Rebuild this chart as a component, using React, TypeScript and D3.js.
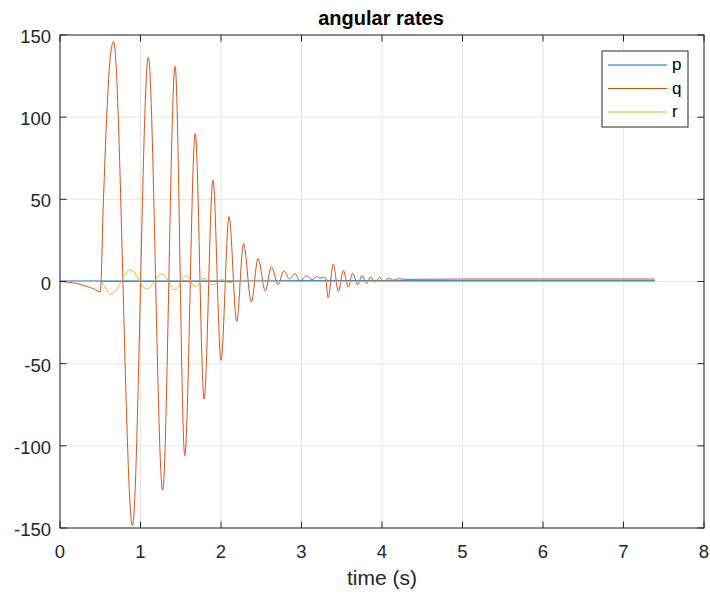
import React from "react";
import * as d3 from "d3";

const qTime = [0, 0.15, 0.3, 0.42, 0.5, 0.54, 0.58, 0.62, 0.665, 0.9, 1.097, 1.275, 1.43, 1.55, 1.68, 1.79, 1.9, 2.0, 2.1, 2.195, 2.28, 2.377, 2.46, 2.55, 2.625, 2.71, 2.78, 2.85, 2.92, 2.98, 3.06, 3.13, 3.19, 3.23, 3.27, 3.3, 3.33, 3.395, 3.457, 3.52, 3.58, 3.636, 3.7, 3.75, 3.81, 3.86, 3.91, 3.97, 4.02, 4.09, 4.14, 4.2, 4.3, 5.0, 7.39];
const qValue = [0, -0.7, -2.5, -4.5, -6.3, 50, 100, 134, 146, -148.6, 136.5, -127, 131, -106, 90, -71.5, 61.7, -48, 39.5, -24.3, 23, -12.5, 14, -5.7, 8.9, -2, 6.5, 1.6, 4.7, 0.3, 3.5, 1.2, 3, 2, 2.6, 2.2, -10, 10.6, -6, 6.7, -3.4, 5, -2, 3.6, -1, 2.7, -0.4, 2.4, 0.2, 1.9, 0.8, 1.7, 1.3, 1.5, 1.5];

const rTime = [0, 0.5, 0.634, 0.878, 1.077, 1.27, 1.428, 1.565, 1.68, 1.79, 1.9, 2.01, 2.1, 2.2, 2.3, 7.39];
const rValue = [0, 0, -7.8, 7.1, -4.6, 4.7, -5, 3.5, -3, 2, -2, 1.2, -0.8, 0.3, 0, 0];

const pTime = [0, 2.0, 4.0, 7.39];
const pValue = [0.25, 0.25, 0.35, 0.4];

const xTicks = [0, 1, 2, 3, 4, 5, 6, 7, 8];
const yTicks = [-150, -100, -50, 0, 50, 100, 150];

const seriesNames = ["p", "q", "r"];
const seriesColors = ["#0072BD", "#D95319", "#EDB120"];
const seriesWidths = [1.3, 1, 1];

const W = 710, H = 595;
const left = 60, right = 704, top = 35, bottom = 528;

export default function App() {
  const x = d3.scaleLinear().domain([0, 8]).range([left, right]);
  const y = d3.scaleLinear().domain([-150, 150]).range([bottom, top]);
  const line = d3
    .line<[number, number]>()
    .x((d) => x(d[0]))
    .y((d) => y(d[1]))
    .curve(d3.curveMonotoneX);

  const series = [
    pTime.map((t, i) => [t, pValue[i]] as [number, number]),
    qTime.map((t, i) => [t, qValue[i]] as [number, number]),
    rTime.map((t, i) => [t, rValue[i]] as [number, number]),
  ];

  const font = "'Liberation Sans', Arial, Helvetica, sans-serif";
  const axisColor = "#262626";
  const tickLen = 6.5;

  return (
    <svg
      width={W}
      height={H}
      style={{ position: "absolute", left: 0, top: 0, background: "#fff" }}
      fontFamily={font}
    >
      <rect x={0} y={0} width={W} height={H} fill="#fff" />
      <defs>
        <clipPath id="plotclip">
          <rect x={left} y={top} width={right - left} height={bottom - top} />
        </clipPath>
      </defs>
      {xTicks.map((t) => (
        <line key={"gx" + t} x1={x(t)} x2={x(t)} y1={top} y2={bottom} stroke="#e6e6e6" strokeWidth={1} />
      ))}
      {yTicks.map((t) => (
        <line key={"gy" + t} x1={left} x2={right} y1={y(t)} y2={y(t)} stroke="#e6e6e6" strokeWidth={1} />
      ))}
      <g clipPath="url(#plotclip)">
        {series.map((s, i) => (
          <path key={i} d={line(s) || ""} fill="none" stroke={seriesColors[i]} strokeWidth={seriesWidths[i]} />
        ))}
      </g>
      <rect x={left} y={top} width={right - left} height={bottom - top} fill="none" stroke={axisColor} strokeWidth={1} />
      {xTicks.map((t) => (
        <g key={"tx" + t}>
          <line x1={x(t)} x2={x(t)} y1={bottom} y2={bottom - tickLen} stroke={axisColor} />
          <line x1={x(t)} x2={x(t)} y1={top} y2={top + tickLen} stroke={axisColor} />
          <text x={x(t)} y={bottom + 29.5} textAnchor="middle" fontSize={18.5} fill={axisColor}>
            {t}
          </text>
        </g>
      ))}
      {yTicks.map((t) => (
        <g key={"ty" + t}>
          <line x1={left} x2={left + tickLen} y1={y(t)} y2={y(t)} stroke={axisColor} />
          <line x1={right} x2={right - tickLen} y1={y(t)} y2={y(t)} stroke={axisColor} />
          <text x={left - 9} y={y(t) + 8} textAnchor="end" fontSize={18.5} fill={axisColor}>
            {t}
          </text>
        </g>
      ))}
      <text x={(left + right) / 2} y={585} textAnchor="middle" fontSize={21} fill={axisColor}>
        time (s)
      </text>
      <text x={381} y={25} textAnchor="middle" fontSize={20} fontWeight="bold" fill="#000">
        angular rates
      </text>
      <g>
        <rect x={602} y={51} width={86} height={76} fill="#fff" stroke="#262626" strokeWidth={1} />
        {seriesNames.map((n, i) => (
          <g key={n}>
            <line x1={608} x2={667} y1={65 + i * 23.5} y2={65 + i * 23.5} stroke={seriesColors[i]} strokeWidth={1} />
            <text x={672} y={65 + i * 23.5 + 5} fontSize={17} fill="#000">
              {n}
            </text>
          </g>
        ))}
      </g>
    </svg>
  );
}
